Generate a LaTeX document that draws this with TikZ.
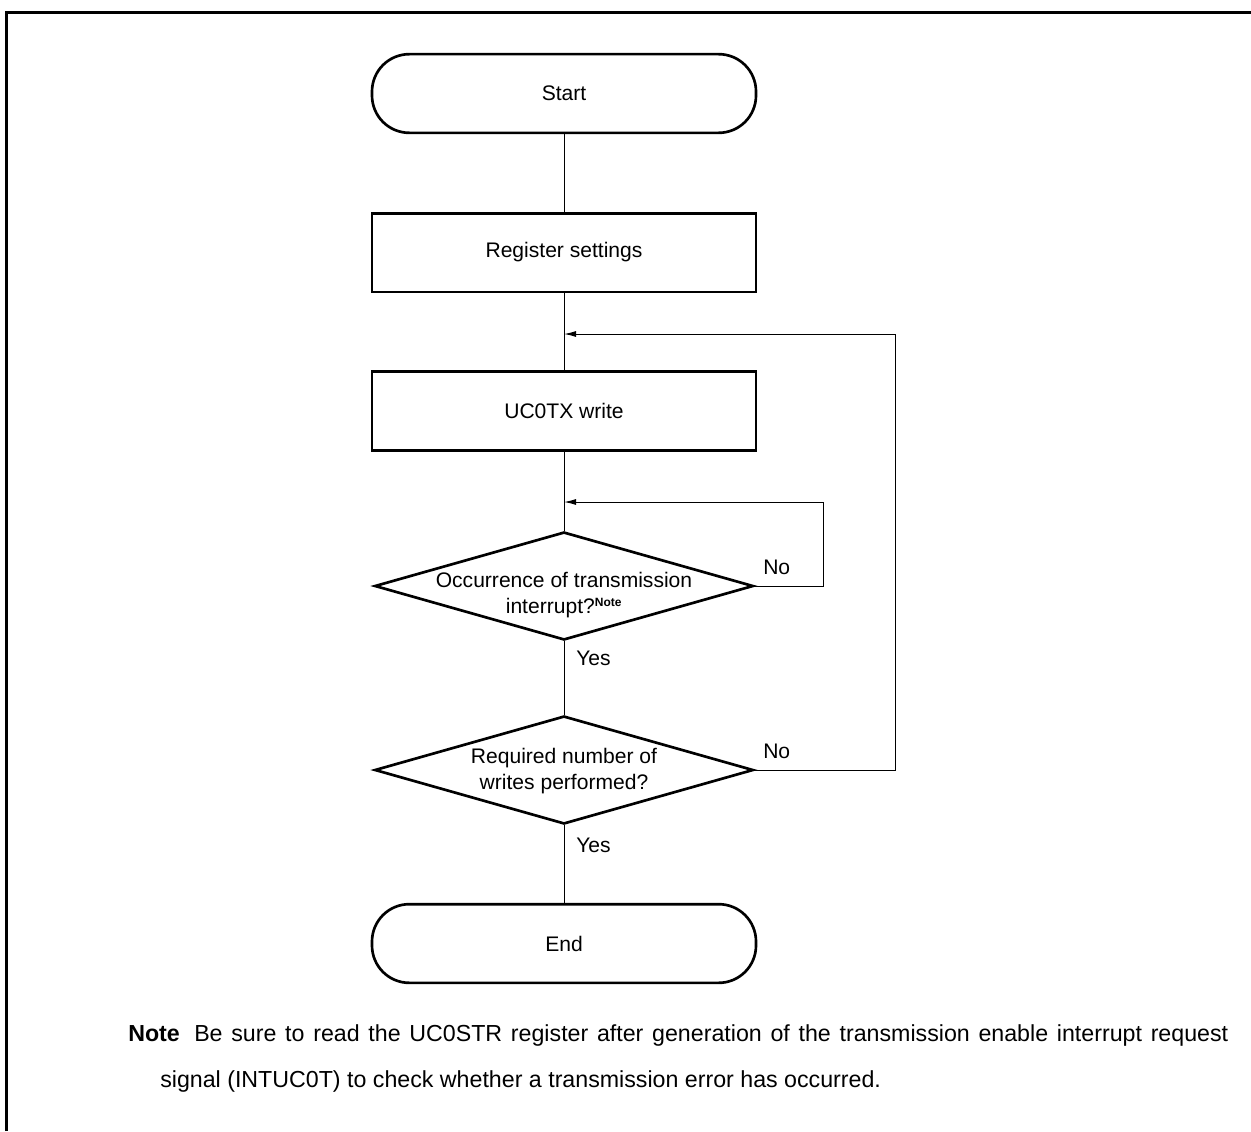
\documentclass[tikz,border=0pt]{standalone}
\usepackage{fontspec}
\setmainfont{Liberation Sans}
\usetikzlibrary{arrows.meta,shapes.geometric}
\newcommand{\diagfont}{\fontsize{15.8}{19.5}\selectfont}
\newcommand{\notefont}{\fontsize{17.4}{20}\selectfont}
\begin{document}
\begin{tikzpicture}[x=0.75pt,y=-0.75pt,
  term/.style={draw, line width=2pt, rounded corners=28pt, minimum width=288pt, minimum height=59pt, inner sep=0pt, font=\diagfont},
  proc/.style={draw, line width=2pt, minimum width=288pt, minimum height=59pt, inner sep=0pt, font=\diagfont},
  dec/.style={draw, line width=2pt, diamond, minimum width=284pt, minimum height=81pt, inner sep=0pt},
  dtext/.style={align=center, font=\diagfont, inner sep=0pt},
  lbl/.style={font=\diagfont, inner sep=0pt},
  notestyle/.style={font=\notefont, inner sep=0pt, anchor=base west},
  conn/.style={line width=0.75pt},
  arr/.style={line width=0.75pt, -{Latex[length=9pt,width=4.5pt]}}
]
\useasboundingbox (0,0) rectangle (1251,1131);
\draw[line width=2.25pt] (6.5,1131) -- (6.5,12.5) -- (1251,12.5);

\node[term] (start) at (564,93.5) {Start};
\node[proc] (reg) at (564,252.5) {Register settings};
\node[proc] (tx) at (564,411) {UC0TX write};
\node[dec] (d1) at (564,586) {};
\node[dtext] (d1t) at (564,595) {Occurrence of transmission\\interrupt?\textsuperscript{\fontsize{9}{10}\selectfont\bfseries Note}};
\node[dec] (d2) at (564,770) {};
\node[dtext] (d2t) at (564,771) {Required number of\\writes performed?};
\node[term] (end) at (564,943.5) {End};

\coordinate (j1) at (564,334);
\coordinate (j2) at (564,502);

\draw[conn] (start.south) -- (reg.north);
\draw[conn] (reg.south) -- (tx.north);
\draw[conn] (tx.south) -- (d1.north);
\draw[conn] (d1.south) -- (d2.north);
\draw[conn] (d2.south) -- (end.north);
\draw[arr] (d1.east) -- ++(69,0) |- (j2);
\draw[arr] (d2.east) -- ++(141,0) |- (j1);

\node[lbl, anchor=west] (no1) at (763,567) {No};
\node[lbl, anchor=west] (yes1) at (576,658) {Yes};
\node[lbl, anchor=west] (no2) at (763,751) {No};
\node[lbl, anchor=west] (yes2) at (576,845) {Yes};

\node[notestyle, font=\notefont\bfseries] (notelbl) at (128,1041) {Note};
\node[notestyle] (notetxt1) at (194,1041) {\hbox to 775.5pt{Be sure to read the UC0STR register after generation of the transmission enable interrupt request}};
\node[notestyle] (notetxt2) at (160,1087) {signal (INTUC0T) to check whether a transmission error has occurred.};
\end{tikzpicture}
\end{document}
